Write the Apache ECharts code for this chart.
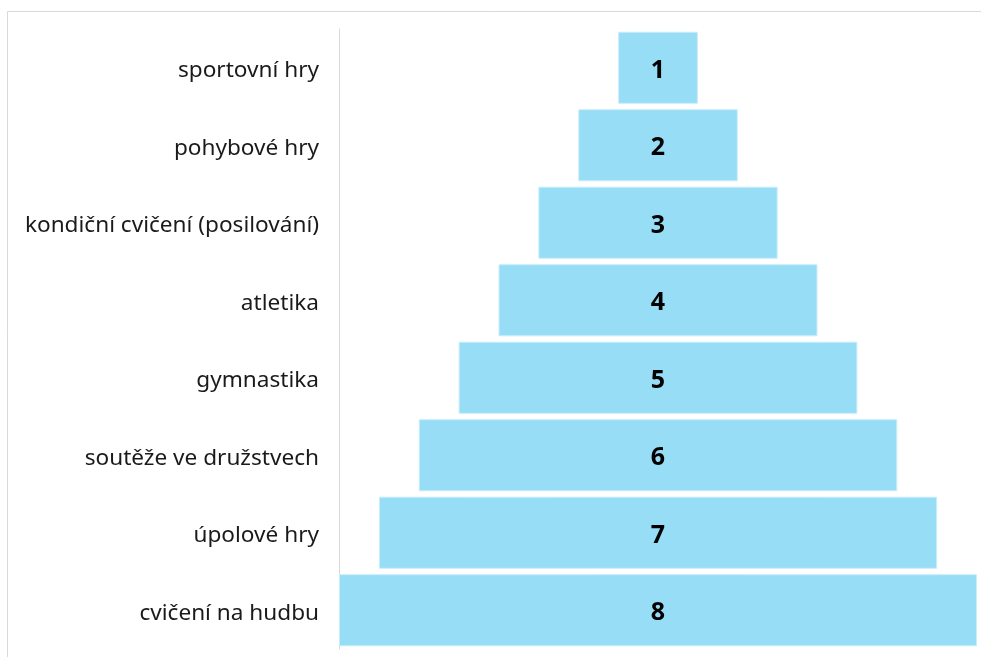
<!DOCTYPE html>
<html>
<head>
<meta charset="UTF-8">
<title>pyramid</title>
<script src="https://cdn.jsdelivr.net/npm/echarts@6/dist/echarts.min.js"></script>
<style>
  html, body { margin: 0; padding: 0; background: #fff; }
  #main { width: 981px; height: 657px; }
</style>
</head>
<body>
<div id="main"></div>
<script>
// categories top -> bottom
var categories = ['sportovní hry', 'pohybové hry', 'kondiční cvičení (posilování)', 'atletika',
                  'gymnastika', 'soutěže ve družstvech', 'úpolové hry', 'cvičení na hudbu'];
var values = [1, 2, 3, 4, 5, 6, 7, 8];

var maxVal = 8;
// invisible spacer so every bar is centred
var spacer = values.map(function (v) { return (maxVal - v) / 2; });

var chart = echarts.init(document.getElementById('main'));
var option = {
  animation: false,
  graphic: [{
    type: 'rect',
    shape: { x: 7.5, y: 11.5, width: 1000, height: 700 },
    style: { fill: 'none', stroke: '#d9d9d9', lineWidth: 1 },
    silent: true
  }],
  grid: { left: 339, right: 4, top: 29, bottom: 8 },
  xAxis: {
    type: 'value', min: 0, max: maxVal,
    show: false
  },
  yAxis: {
    type: 'category',
    inverse: true,
    data: categories,
    axisLine: { show: true, lineStyle: { color: '#d9d9d9', width: 1 } },
    axisTick: { show: false },
    axisLabel: {
      color: '#1a1a1a', fontSize: 22.6, fontFamily: 'Noto Sans', margin: 20,
      verticalAlign: 'top', lineHeight: 6
    }
  },
  series: [
    {
      type: 'bar', stack: 'p', data: spacer,
      itemStyle: { color: 'transparent' },
      silent: true,
      barCategoryGap: '7%'
    },
    {
      type: 'bar', stack: 'p', data: values,
      barCategoryGap: '7%',
      itemStyle: { color: '#97ddf6', borderColor: '#c8eefb', borderWidth: 1 },
      label: {
        show: true, position: 'inside', offset: [0, 3],
        color: '#000', fontWeight: 'bold', fontSize: 25, fontFamily: 'Noto Sans'
      }
    }
  ]
};
chart.setOption(option);
</script>
</body>
</html>
